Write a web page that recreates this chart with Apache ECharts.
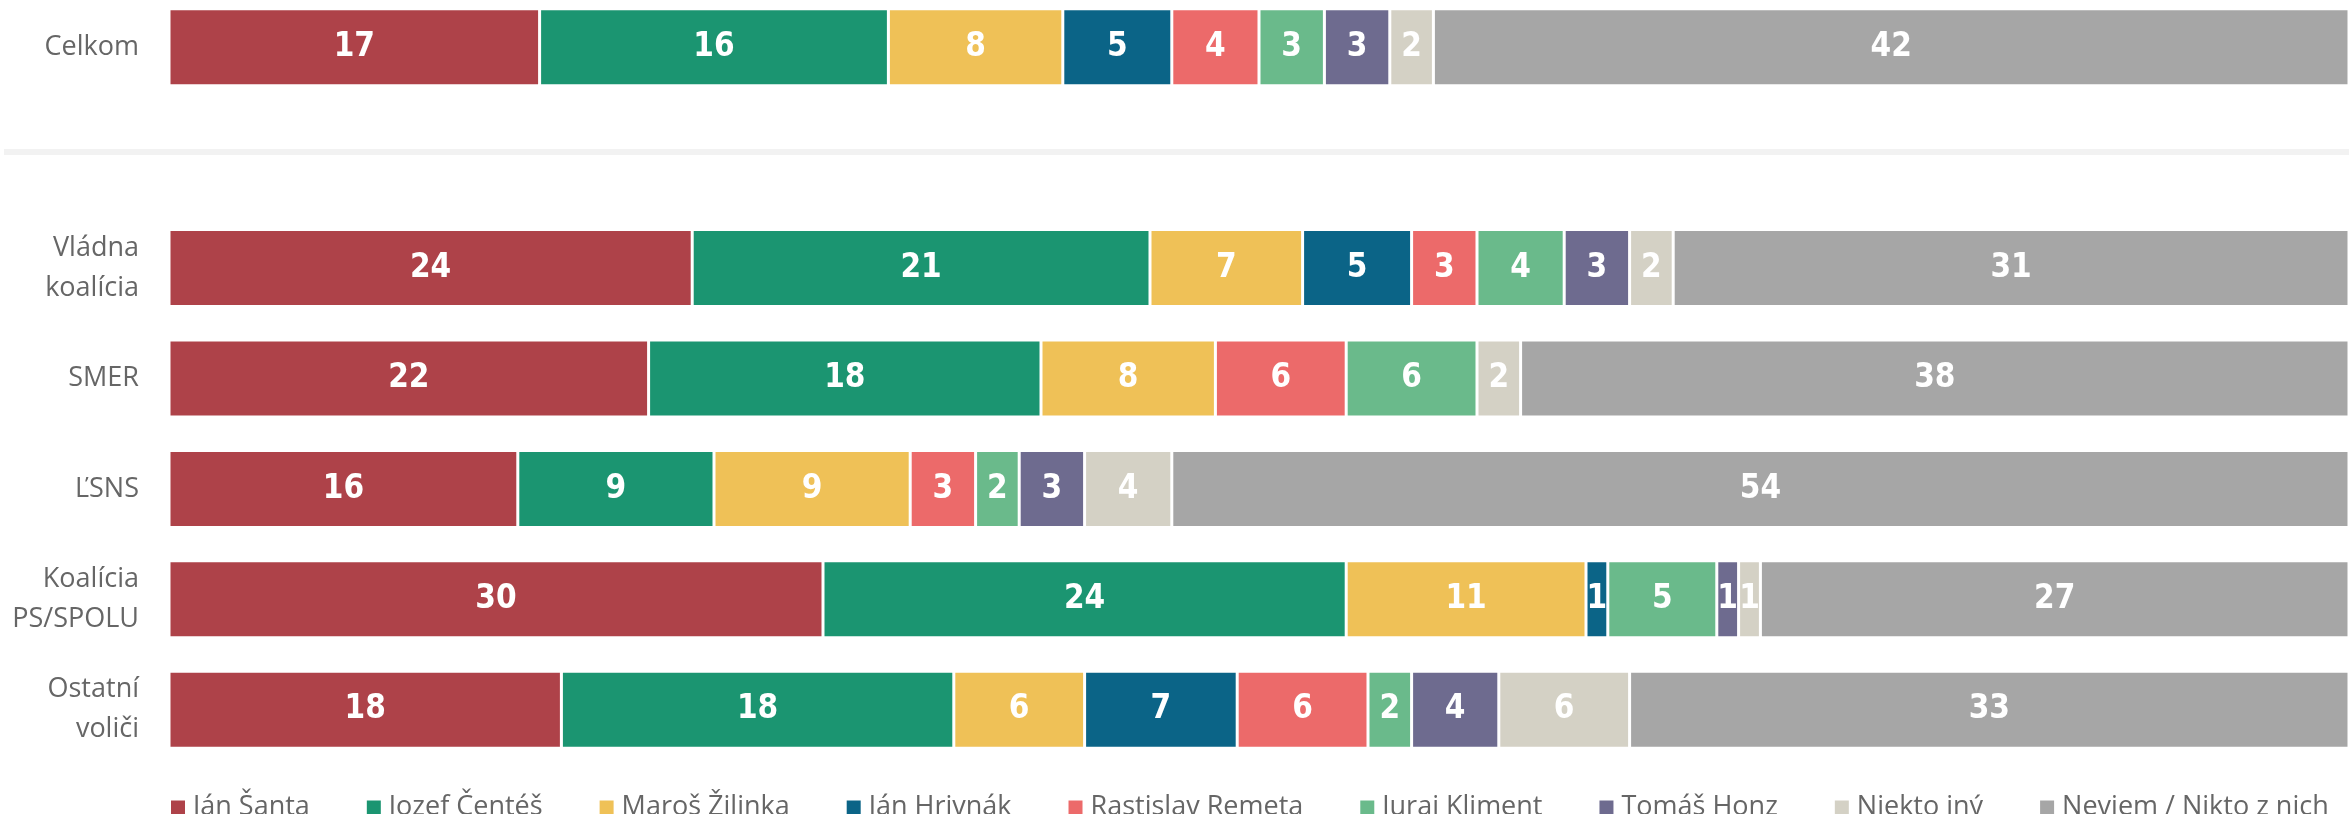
<!DOCTYPE html>
<html lang="sk">
<head>
    <meta charset="utf-8">
    <title>ECharts - prieskum kandidátov</title>
    <style type="text/css">
        html, body { margin: 0; padding: 0; background: #fff; overflow: hidden; }
        /* posunuté o 8px hore, aby prvý riadok sedel ako v predlohe */
        .page { width: 2349px; height: 822px; margin-top: -8px; }
    </style>
</head>
<body>

<div id="page" class="page"></div>

<script src="https://cdn.jsdelivr.net/npm/echarts@6/dist/echarts.min.js"></script>
<script>
    // riadky grafu, prázdny riadok je oddeľovač
    var categories = ['Celkom', '', 'Vládna\nkoalícia', 'SMER', 'ĽSNS', 'Koalícia\nPS/SPOLU', 'Ostatní\nvoliči'];

    var seriesNames = ['Ján Šanta', 'Jozef Čentéš', 'Maroš Žilinka', 'Ján Hrivnák', 'Rastislav Remeta',
        'Juraj Kliment', 'Tomáš Honz', 'Niekto iný', 'Neviem / Nikto z nich'];

    var colors = ['#ae4249', '#1b9571', '#efc157', '#0b6487', '#ec6a6a', '#6aba8b', '#6e6b8f', '#d4d1c5', '#a6a6a6'];

    // hodnoty v %, '-' = bez hodnoty
    var santa    = [17, '-', 24, 22, 16, 30, 18];
    var centes   = [16, '-', 21, 18, 9, 24, 18];
    var zilinka  = [8, '-', 7, 8, 9, 11, 6];
    var hrivnak  = [5, '-', 5, '-', '-', 1, 7];
    var remeta   = [4, '-', 3, 6, 3, '-', 6];
    var kliment  = [3, '-', 4, 6, 2, 5, 2];
    var honz     = [3, '-', 3, '-', 3, 1, 4];
    var niekto   = [2, '-', 2, 2, 4, 1, 6];
    var neviem   = [42, '-', 31, 38, 54, 27, 33];

    var values = [santa, centes, zilinka, hrivnak, remeta, kliment, honz, niekto, neviem];

    (function () {
        var myChart = echarts.init(document.getElementById('page'));

        var series = [];
        for (var i = 0; i < seriesNames.length; i++) {
            series.push({
                name: seriesNames[i],
                type: 'bar',
                stack: 'total',
                barWidth: 77,
                data: values[i],
                itemStyle: {
                    color: colors[i],
                    borderColor: '#fff',
                    borderWidth: 1.5
                },
                label: {
                    show: true,
                    position: 'inside',
                    color: '#fff',
                    fontFamily: '"Liberation Sans Narrow", "DejaVu Sans Condensed", sans-serif',
                    fontWeight: 'bold',
                    fontSize: 33
                },
                emphasis: {disabled: true}
            });
        }

        var option = {
            animation: false,
            color: colors,
            grid: {
                left: 169,
                right: -14,
                top: 0,
                bottom: 49
            },
            xAxis: {
                type: 'value',
                min: 0,
                max: 100,
                show: false
            },
            yAxis: {
                type: 'category',
                inverse: true,
                data: categories,
                axisLine: {show: false},
                axisTick: {show: false},
                axisLabel: {
                    margin: 30,
                    color: '#666',
                    fontFamily: '"Open Sans", sans-serif',
                    fontSize: 27,
                    lineHeight: 40,
                    align: 'right'
                }
            },
            legend: {
                left: 164,
                top: 797,
                itemWidth: 16,
                itemHeight: 16,
                itemGap: 55,
                icon: 'rect',
                data: seriesNames,
                textStyle: {
                    color: '#666',
                    fontFamily: '"Open Sans", sans-serif',
                    fontSize: 27,
                    lineHeight: 27,
                    padding: [0, 0, 0, 2]
                }
            },
            // šedý oddeľovač medzi celkom a skupinami
            graphic: [{
                type: 'rect',
                left: 4,
                top: 157,
                shape: {width: 2345, height: 6},
                style: {fill: '#f2f2f2'},
                z: -1
            }],
            series: series
        };
        myChart.setOption(option);
    })();
</script>
</body>
</html>
